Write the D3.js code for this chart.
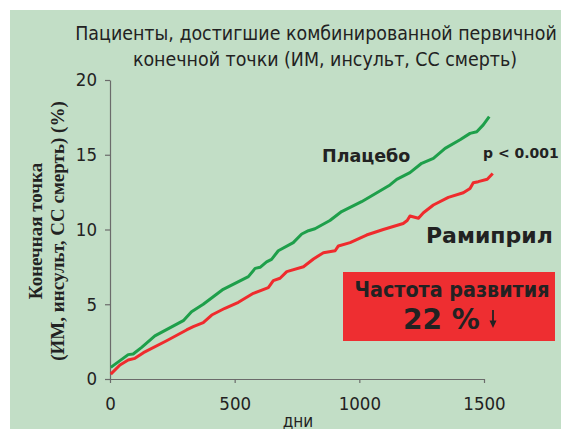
<!DOCTYPE html>
<html><head><meta charset="utf-8">
<script src="https://cdn.jsdelivr.net/npm/d3@7"></script>
<style>
html,body{margin:0;padding:0;background:#fff;}
svg{display:block;}
</style></head>
<body><svg id="chart" width="561" height="429"></svg>
<script>
const titleLines = ["Пациенты, достигшие комбинированной первичной", "конечной точки (ИМ, инсульт, СС смерть)"];
const yLabelLines = ["Конечная точка", "(ИМ, инсульт, СС смерть) (%)"];
const xLabel = "дни";
const xTicks = [0, 500, 1000, 1500];
const yTicks = [0, 5, 10, 15, 20];

const placeboDays   = [3, 73, 93, 127, 180, 294, 327, 374, 414, 454, 555, 582, 602, 628, 648, 675, 735, 769, 796, 822, 882, 929, 1009, 1123, 1150, 1203, 1250, 1297, 1344, 1404, 1444, 1471, 1497, 1521];
const placeboValues = [0.78, 1.63, 1.67, 2.12, 2.88, 3.9, 4.5, 5.0, 5.5, 6.0, 6.85, 7.4, 7.47, 7.83, 8.0, 8.58, 9.12, 9.7, 9.92, 10.05, 10.6, 11.2, 11.86, 12.98, 13.35, 13.8, 14.43, 14.76, 15.43, 16.0, 16.43, 16.54, 17.0, 17.55];

const ramiprilDays   = [3, 40, 73, 100, 134, 227, 307, 334, 374, 408, 461, 515, 575, 635, 655, 682, 709, 776, 816, 856, 903, 916, 963, 1029, 1096, 1176, 1192, 1203, 1237, 1257, 1297, 1357, 1417, 1444, 1457, 1477, 1513, 1535];
const ramiprilValues = [0.33, 0.94, 1.27, 1.38, 1.76, 2.56, 3.28, 3.5, 3.77, 4.28, 4.73, 5.13, 5.73, 6.11, 6.58, 6.74, 7.18, 7.51, 8.03, 8.45, 8.58, 8.9, 9.12, 9.63, 10.0, 10.4, 10.6, 10.9, 10.75, 11.12, 11.64, 12.15, 12.46, 12.75, 13.13, 13.2, 13.36, 13.75];

const seriesNames = ["Плацебо", "Рамиприл"];
const pText = "p < 0.001";
const boxLines = ["Частота развития", "22 %"];

const svg = d3.select("#chart");
const W = 561, H = 429;
const condFont = "'DejaVu Sans Condensed', 'DejaVu Sans', sans-serif";
const wideFont = "'DejaVu Sans', sans-serif";

svg.append("rect").attr("x", 10).attr("y", 10).attr("width", W - 10).attr("height", H - 10).attr("fill", "#c2dec6");

const x = d3.scaleLinear().domain([0, 1500]).range([110, 484]);
const y = d3.scaleLinear().domain([0, 20]).range([379, 80]);

// title
svg.append("g").selectAll("text").data(titleLines).join("text")
  .attr("x", (d, i) => i === 0 ? 316 : 325)
  .attr("y", (d, i) => 40 + i * 26)
  .attr("text-anchor", "middle")
  .attr("font-family", condFont)
  .attr("font-size", 19.4)
  .attr("fill", "#222")
  .text(d => d);

// axes
const axisColor = "#6b6b6b";
const yAxis = svg.append("g").attr("transform", "translate(110,0)")
  .call(d3.axisLeft(y).tickValues(yTicks).tickSize(5).tickSizeOuter(0).tickPadding(8).tickFormat(d3.format("d")));
const xAxis = svg.append("g").attr("transform", "translate(0,379)")
  .call(d3.axisBottom(x).tickValues(xTicks).tickSize(4).tickSizeOuter(0).tickPadding(14).tickFormat(d3.format("d")));
[yAxis, xAxis].forEach(a => {
  a.select(".domain").attr("stroke", axisColor).attr("stroke-width", 1.2);
  a.selectAll(".tick line").attr("stroke", axisColor).attr("stroke-width", 1.2);
  a.selectAll(".tick text").attr("font-family", condFont).attr("font-size", 18.5).attr("fill", "#222");
});

// x label
svg.append("text").attr("x", 298).attr("y", 427).attr("text-anchor", "middle")
  .attr("font-family", condFont).attr("font-size", 17).attr("fill", "#222").text(xLabel);

// y label
svg.append("g").attr("transform", "translate(0,231) rotate(-90)")
  .selectAll("text").data(yLabelLines).join("text")
  .attr("x", 0).attr("y", (d, i) => i === 0 ? 42 : 64)
  .attr("text-anchor", "middle")
  .attr("font-family", "'Liberation Serif', serif")
  .attr("font-weight", "bold")
  .attr("font-size", 19)
  .attr("fill", "#222")
  .text(d => d);

// lines
const line = d3.line().x(d => x(d[0])).y(d => y(d[1]));
const placebo = placeboDays.map((d, i) => [d, placeboValues[i]]);
const ramipril = ramiprilDays.map((d, i) => [d, ramiprilValues[i]]);
svg.append("path").datum(placebo).attr("d", line).attr("fill", "none").attr("stroke", "#1e9f4a").attr("stroke-width", 3).attr("stroke-linejoin", "round");
svg.append("path").datum(ramipril).attr("d", line).attr("fill", "none").attr("stroke", "#ef2b2d").attr("stroke-width", 3).attr("stroke-linejoin", "round");

// annotations
svg.append("text").attr("x", 322).attr("y", 162).attr("font-family", wideFont).attr("font-weight", "bold")
  .attr("font-size", 17.5).attr("fill", "#222").text(seriesNames[0]);
svg.append("text").attr("x", 426).attr("y", 243).attr("font-family", wideFont).attr("font-weight", "bold")
  .attr("font-size", 22).attr("fill", "#222").text(seriesNames[1]);
svg.append("text").attr("x", 483).attr("y", 158).attr("font-family", wideFont).attr("font-weight", "bold")
  .attr("font-size", 14).attr("fill", "#222").text(pText);

svg.append("rect").attr("x", 343).attr("y", 272).attr("width", 212).attr("height", 69).attr("fill", "#ee2e31");
svg.append("text").attr("x", 452).attr("y", 297).attr("text-anchor", "middle").attr("font-family", condFont)
  .attr("font-weight", "bold").attr("font-size", 21.3).attr("fill", "#222").text(boxLines[0]);
svg.append("text").attr("x", 403).attr("y", 328.5).attr("font-family", wideFont)
  .attr("font-weight", "bold").attr("font-size", 28).attr("fill", "#222").text(boxLines[1]);
// down arrow
svg.append("line").attr("x1", 493).attr("y1", 310).attr("x2", 493).attr("y2", 322).attr("stroke", "#222").attr("stroke-width", 1.8);
svg.append("path").attr("d", "M489.5,320.5 L496.5,320.5 L493,328 Z").attr("fill", "#222");
</script></body></html>
